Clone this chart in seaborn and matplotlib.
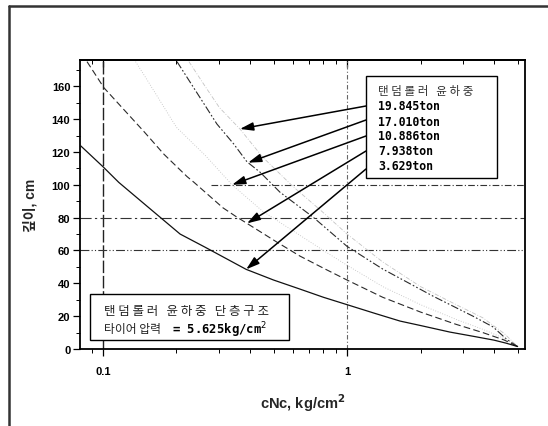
import matplotlib
matplotlib.use('Agg')
import numpy as np
import pandas as pd
import matplotlib.pyplot as plt
import seaborn as sns
from matplotlib.patches import Rectangle
from matplotlib.lines import Line2D
from matplotlib.ticker import FixedLocator, FixedFormatter, LogLocator, NullFormatter, MultipleLocator

# ---------------- data ----------------
legend_title = '탠 덤 롤 러   윤 하 중'
load_labels = ['19.845ton', '17.010ton', '10.886ton', '7.938ton', '3.629ton']

x_19845 = [0.225, 0.262, 0.3, 0.364, 0.45, 0.6, 0.8, 1.0, 1.4, 2.0, 2.8, 3.6, 4.4, 5.0]
y_19845 = [175, 160, 147, 134, 117, 99, 83, 70, 53, 38, 27, 19, 9.5, 1.5]

x_17010 = [0.201, 0.25, 0.293, 0.344, 0.389, 0.44, 0.531, 0.726, 1.0, 1.4, 2.25, 3.28, 3.97, 4.5, 5.0]
y_17010 = [175, 153, 137, 124.7, 114, 107.7, 95.5, 80.3, 62.5, 48.7, 32.2, 20, 13.4, 6, 1.5]

x_10886 = [0.136, 0.15, 0.2, 0.262, 0.338, 0.45, 0.6, 0.8, 1.0, 1.4, 2.0, 2.8, 3.6, 4.4, 5.0]
y_10886 = [175, 165, 135, 118, 100, 84, 72, 60, 51, 38, 27, 18, 12, 6.5, 1.5]

x_7938 = [0.086, 0.101, 0.147, 0.178, 0.221, 0.236, 0.31, 0.348, 0.517, 0.641, 0.813, 1.0, 1.4, 2.0, 2.8, 3.6, 4.4, 5.0]
y_7938 = [175, 159, 132.5, 118.5, 105, 101.5, 86, 81, 65, 56.6, 48.7, 42, 31.5, 22.5, 15, 10, 5.5, 1.5]

x_3629 = [0.08, 0.1, 0.116, 0.15, 0.207, 0.262, 0.386, 0.5, 0.641, 0.8, 1.0, 1.3, 1.65, 2.0, 2.64, 3.3, 4.0, 4.5, 5.0]
y_3629 = [124.5, 111, 101.5, 87.5, 70, 62, 48.5, 42, 36.5, 31.5, 27, 21.7, 17, 14.3, 10.3, 7.7, 5.4, 3.5, 1.5]

arrow_tip_x = [0.364, 0.393, 0.338, 0.389, 0.386]

x_ticks = [0.1, 1]
x_tick_labels = ['0.1', '1']
y_ticks = [0, 20, 40, 60, 80, 100, 120, 140, 160]

box_line1 = '탠 덤 롤 러   윤 하 중   단 층 구 조'
box_line2a = '타이어 압력'
box_line2b = '= 5.625kg/cm$^{2}$'

# ---------------- style ----------------
sns.set_theme(style='white')
plt.rcParams['font.family'] = ['Liberation Sans', 'Noto Sans CJK KR']
plt.rcParams['axes.edgecolor'] = 'black'
plt.rcParams['xtick.color'] = 'black'
plt.rcParams['ytick.color'] = 'black'

W, H = 548, 427
fig = plt.figure(figsize=(W / 100, H / 100), dpi=100)
fig.patch.set_facecolor('white')

def fx(px):
    return px / W

def fy(py):
    return 1 - py / H

ax = fig.add_axes([fx(80), fy(350), (525 - 80) / W, (350 - 61) / H])
ax.set_xscale('log')
ax.set_xlim(0.0805, 5.36)
ax.set_ylim(0, 176)

curves = [
    (x_19845, y_19845, '#c4c4c4', 0.6, (5, 2, 1, 2)),
    (x_17010, y_17010, '#2a2a2a', 0.8, (7, 2, 1.5, 2, 1.5, 2)),
    (x_10886, y_10886, '#bdbdbd', 0.6, (1, 2)),
    (x_7938, y_7938, '#2a2a2a', 0.8, (6, 3)),
    (x_3629, y_3629, '#111111', 0.9, None),
]

curve_frames = []
for xs, ys, col, lw, dash in curves:
    df = pd.DataFrame({'x': xs, 'y': ys})
    curve_frames.append(df)
    sns.lineplot(data=df, x='x', y='y', ax=ax, color=col, linewidth=lw,
                 estimator=None, sort=False, legend=False)
    ln = ax.lines[-1]
    if dash is not None:
        ln.set_dashes(dash)
    ln.set_zorder(3)

# reference lines
ax.axvline(0.1, color='#222222', lw=1.0, dashes=(9, 2), zorder=2)
ax.axvline(1.0, color='#666666', lw=0.8, dashes=(4, 2, 1, 2), zorder=2)
ax.plot([0.277, 5.36], [100, 100], color='#333333', lw=0.8, dashes=(6, 2, 1, 2), zorder=2)
ax.axhline(80, color='#333333', lw=0.8, dashes=(10, 3, 2, 3), zorder=2)
ax.axhline(60, color='#333333', lw=0.8, dashes=(8, 2, 1, 2, 1, 2), zorder=2)

# axes & ticks
for s in ax.spines.values():
    s.set_linewidth(1.3)
    s.set_color('black')

ax.xaxis.set_major_locator(FixedLocator(x_ticks))
ax.xaxis.set_major_formatter(FixedFormatter(x_tick_labels))
ax.xaxis.set_minor_locator(LogLocator(base=10, subs=np.arange(2, 10)))
ax.xaxis.set_minor_formatter(NullFormatter())
ax.yaxis.set_major_locator(FixedLocator(y_ticks))
ax.yaxis.set_minor_locator(MultipleLocator(10))
ax.tick_params(axis='both', which='major', direction='out', length=5, width=0.9,
               labelsize=8, bottom=True, left=True)
ax.tick_params(axis='both', which='minor', direction='out', length=3, width=0.7,
               bottom=True, left=True)
ax.tick_params(axis='x', which='major', pad=7)
ax.tick_params(axis='y', which='major', pad=2)
for lab in ax.get_xticklabels() + ax.get_yticklabels():
    lab.set_fontweight('bold')

sec = ax.secondary_xaxis('top')
sec.tick_params(axis='x', which='both', direction='in', labeltop=False)
sec.tick_params(axis='x', which='major', length=5, width=0.9)
sec.tick_params(axis='x', which='minor', length=3, width=0.7)
sec.xaxis.set_major_locator(FixedLocator(x_ticks))
sec.xaxis.set_minor_locator(LogLocator(base=10, subs=np.arange(2, 10)))
sec.xaxis.set_major_formatter(NullFormatter())
sec.xaxis.set_minor_formatter(NullFormatter())
sec.spines['top'].set_linewidth(1.3)

ax.set_xlabel('cNc, kg/cm$^{\\mathbf{2}}$', fontsize=10.5, fontweight='bold')
ax.xaxis.set_label_coords(0.5, (350 - 403) / 289)
ax.xaxis.label.set_va('center')
ax.set_ylabel('깊이, cm', fontsize=10, fontweight='bold')
ax.yaxis.set_label_coords((30 - 80) / 445, 0.5)
ax.yaxis.label.set_va('center')

# ---------------- legend box with arrows ----------------
box_l, box_r, box_t, box_b = 366, 497, 77, 179
fig.add_artist(Rectangle((fx(box_l), fy(box_b)), (box_r - box_l) / W, (box_b - box_t) / H,
                         transform=fig.transFigure, facecolor='white', edgecolor='black',
                         lw=1.0, zorder=5))
fig.text(fx(378), fy(92), legend_title, fontsize=8.3, color='#333333',
         family=['Noto Sans CJK KR'], va='center', ha='left', zorder=6)
line_y = [107, 122, 137, 152, 167]
arrow_start_y = [107, 121, 137, 152, 170]
for lab, ly in zip(load_labels, line_y):
    fig.text(fx(378), fy(ly), lab, fontsize=8.3, fontweight='bold', color='black',
             family=['DejaVu Sans Mono'], va='center', ha='left', zorder=6)

for df, tx, sy in zip(curve_frames, arrow_tip_x, arrow_start_y):
    ty = float(np.interp(np.log10(tx), np.log10(df['x'].values), df['y'].values))
    ax.annotate('', xy=(tx, ty), xycoords='data',
                xytext=(fx(box_l), fy(sy)), textcoords='figure fraction',
                arrowprops=dict(arrowstyle='-|>,head_length=0.8,head_width=0.25',
                                color='black', lw=1.1, shrinkA=0, shrinkB=0,
                                mutation_scale=10),
                zorder=4)

# ---------------- lower-left info box ----------------
b2_l, b2_r, b2_t, b2_b = 90, 289, 295, 341
fig.add_artist(Rectangle((fx(b2_l), fy(b2_b)), (b2_r - b2_l) / W, (b2_b - b2_t) / H,
                         transform=fig.transFigure, facecolor='white', edgecolor='black',
                         lw=1.0, zorder=5))
fig.text(fx(104), fy(312), box_line1, fontsize=9, color='#222222',
         family=['Noto Sans CJK KR'], va='center', ha='left', zorder=6)
fig.text(fx(104), fy(330), box_line2a, fontsize=8.5, color='#222222',
         family=['Noto Sans CJK KR'], va='center', ha='left', zorder=6)
fig.text(fx(172), fy(330), box_line2b, fontsize=8.8, fontweight='bold', color='black',
         family=['DejaVu Sans Mono'], va='center', ha='left', zorder=6)

# ---------------- outer frame of the scanned figure ----------------
fig.add_artist(Line2D([fx(9), fx(548)], [fy(7), fy(7)], transform=fig.transFigure,
                      color='#333333', lw=1.8))
fig.add_artist(Line2D([fx(9), fx(9)], [fy(7), fy(427)], transform=fig.transFigure,
                      color='#333333', lw=1.8))

fig.savefig('out.png', dpi=100, facecolor='white')
